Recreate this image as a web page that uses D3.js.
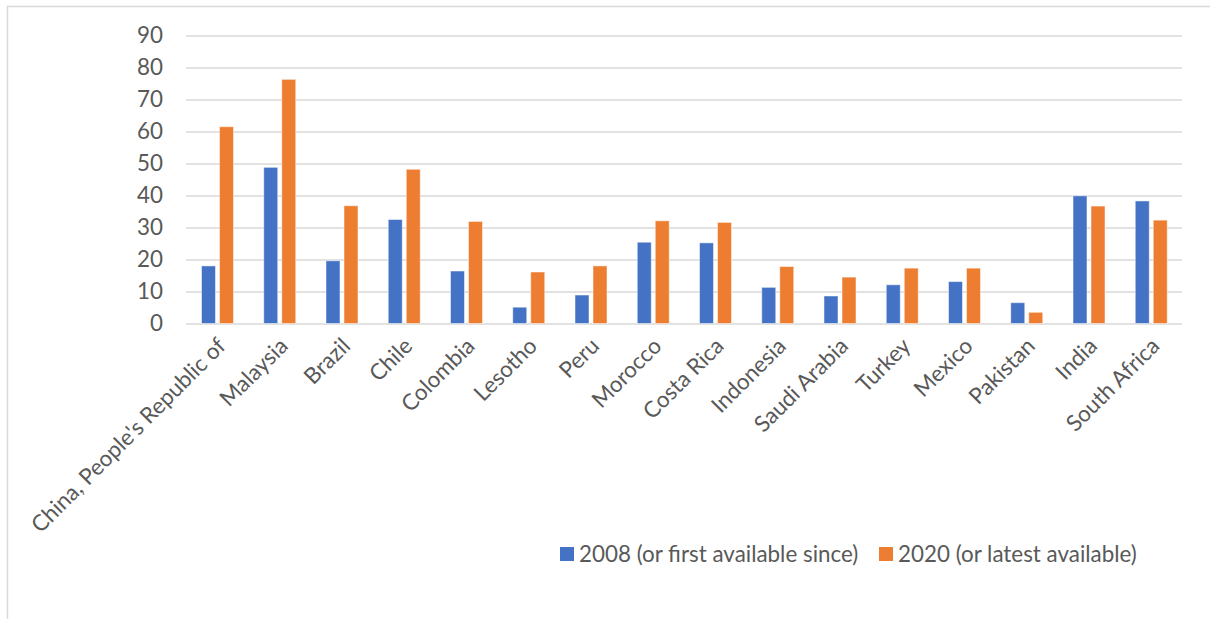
<!DOCTYPE html>
<html>
<head>
<meta charset="utf-8">
<script src="https://cdn.jsdelivr.net/npm/d3@7"></script>
<style>
  html, body { margin: 0; padding: 0; background: #fff; }
  svg { display: block; font-family: Lato, "Liberation Sans", sans-serif; }
</style>
</head>
<body>
<svg id="chart" width="1210" height="619"></svg>
<script>
const categories = ["China, People's Republic of", "Malaysia", "Brazil", "Chile", "Colombia", "Lesotho", "Peru", "Morocco", "Costa Rica", "Indonesia", "Saudi Arabia", "Turkey", "Mexico", "Pakistan", "India", "South Africa"];
const series = ["2008 (or first available since)", "2020 (or latest available)"];
const values2008 = [18.0, 48.8, 19.6, 32.5, 16.4, 5.1, 8.9, 25.4, 25.2, 11.3, 8.6, 12.1, 13.1, 6.5, 39.9, 38.3];
const values2020 = [61.5, 76.3, 36.8, 48.2, 31.9, 16.1, 18.0, 32.1, 31.6, 17.8, 14.5, 17.3, 17.3, 3.5, 36.7, 32.3];
const yTicks = [0, 10, 20, 30, 40, 50, 60, 70, 80, 90];
const colors = ["#4472C4", "#ED7D31"];

const svg = d3.select("#chart");
const W = 1210, H = 619;
const plot = { left: 186, right: 1182, top: 35.5, bottom: 323.5 };
const FS = 22.4;

svg.append("rect").attr("x", 0).attr("y", 0).attr("width", W).attr("height", H).attr("fill", "#fff");
svg.append("rect").attr("x", 7.5).attr("y", 6.5).attr("width", W + 20).attr("height", H + 20)
  .attr("fill", "none").attr("stroke", "#d9d9d9").attr("stroke-width", 1.5);

const y = d3.scaleLinear().domain([0, 90]).range([plot.bottom, plot.top]);
const x0 = d3.scaleBand().domain(categories).range([plot.left, plot.right]).padding(0);
const bw0 = x0.bandwidth();
const x1 = d3.scaleBand().domain(series).range([bw0 * 0.249, bw0 * 0.763]).paddingInner(0.222);

// gridlines
const yAxis = d3.axisLeft(y).tickValues(yTicks).tickSize(-(plot.right - plot.left)).tickPadding(23);
const gy = svg.append("g").attr("transform", `translate(${plot.left},0)`).call(yAxis);
gy.select(".domain").remove();
gy.selectAll(".tick line").attr("stroke", "#d9d9d9").attr("stroke-width", 1.5);
gy.selectAll(".tick text").attr("fill", "#595959").attr("font-size", FS)
  .attr("font-family", "Lato, 'Liberation Sans', sans-serif");

// bars
const data = categories.map((c, i) => ({ cat: c, vals: [values2008[i], values2020[i]] }));
const groups = svg.append("g").selectAll("g").data(data).join("g")
  .attr("transform", d => `translate(${x0(d.cat)},0)`);
groups.selectAll("rect").data(d => d.vals.map((v, j) => ({ s: series[j], v, j })))
  .join("rect")
  .attr("x", d => x1(d.s))
  .attr("width", x1.bandwidth())
  .attr("y", d => y(d.v))
  .attr("height", d => y(0) - y(d.v))
  .attr("fill", d => colors[d.j])
  .attr("stroke", "#ffffff").attr("stroke-opacity", 0.5).attr("stroke-width", 1);

// x axis labels
const xAxis = d3.axisBottom(x0).tickSize(0).tickPadding(0);
const gx = svg.append("g").attr("transform", `translate(0,${plot.bottom})`).call(xAxis);
gx.select(".domain").remove();
gx.selectAll(".tick text")
  .attr("fill", "#595959").attr("font-size", FS)
  .attr("font-family", "Lato, 'Liberation Sans', sans-serif")
  .attr("text-anchor", "end")
  .attr("dy", 0)
  .attr("transform", "translate(10,24) rotate(-45)");

// legend
const legendX = [560, 879];
const leg = svg.append("g").selectAll("g").data(series).join("g")
  .attr("transform", (d, i) => `translate(${legendX[i]},547)`);
leg.append("rect").attr("width", 14).attr("height", 14).attr("fill", (d, i) => colors[i]);
leg.append("text").attr("x", 19).attr("y", 14.5).attr("fill", "#595959").attr("font-size", FS)
  .text(d => d);
</script>
</body>
</html>
